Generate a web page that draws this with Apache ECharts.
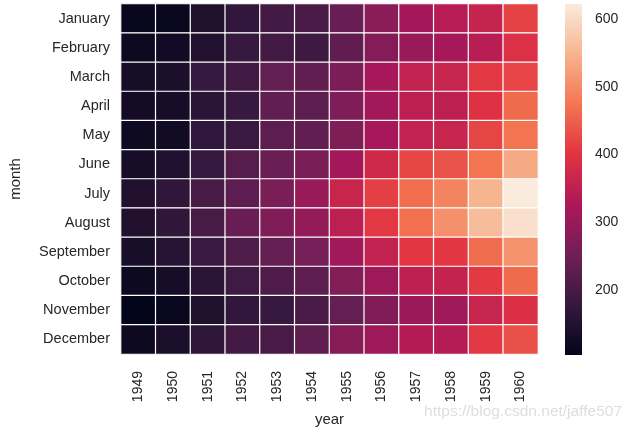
<!DOCTYPE html>
<html><head><meta charset="utf-8">
<script src="https://cdn.jsdelivr.net/npm/echarts@6/dist/echarts.min.js"></script>
<style>html,body{margin:0;padding:0;background:#fff}#c{width:633px;height:432px}</style>
</head><body><div id="c"></div>
<script>
var years = ['1949','1950','1951','1952','1953','1954','1955','1956','1957','1958','1959','1960'];
var months = ['January','February','March','April','May','June','July','August','September','October','November','December'];
// passengers per year, Jan..Dec
var p1949 = [112,118,132,129,121,135,148,148,136,119,104,118];
var p1950 = [115,126,141,135,125,149,170,170,158,133,114,140];
var p1951 = [145,150,178,163,172,178,199,199,184,162,146,166];
var p1952 = [171,180,193,181,183,218,230,242,209,191,172,194];
var p1953 = [196,196,236,235,229,243,264,272,237,211,180,201];
var p1954 = [204,188,235,227,234,264,302,293,259,229,203,229];
var p1955 = [242,233,267,269,270,315,364,347,312,274,237,278];
var p1956 = [284,277,317,313,318,374,413,405,355,306,271,306];
var p1957 = [315,301,356,348,355,422,465,467,404,347,305,336];
var p1958 = [340,318,362,348,363,435,491,505,404,359,310,337];
var p1959 = [360,342,406,396,420,472,548,559,463,407,362,405];
var p1960 = [417,391,419,461,472,535,622,606,508,461,390,432];
var colorbarTicks = [200,300,400,500,600];
var vMin = 104, vMax = 622;

var all = [p1949,p1950,p1951,p1952,p1953,p1954,p1955,p1956,p1957,p1958,p1959,p1960];
var data = [];
all.forEach(function(col, xi){ col.forEach(function(v, yi){ data.push([xi, yi, v]); }); });

var rocket = ['#03051a','#35193e','#701f57','#ad1759','#e13342','#f37651','#f6b48f','#faebdd'];
var stops = rocket.map(function(c,i){ return {offset: i/(rocket.length-1), color: c}; });

var txt = '#262626';
var font = 'Arial, "Liberation Sans", sans-serif';
var chart = echarts.init(document.getElementById('c'));
chart.setOption({
  animation: false,
  textStyle: {fontFamily: font},
  grid: [
    {left: 117, top: 4, width: 421, height: 350},
    {left: 565, top: 4, width: 17, height: 351}
  ],
  xAxis: [
    {type: 'category', data: years, gridIndex: 0, axisLine: {show: false}, axisTick: {show: false},
     axisLabel: {rotate: 90, fontSize: 14, color: txt, margin: 17, fontFamily: font},
     name: 'year', nameLocation: 'middle', nameGap: 58, nameTextStyle: {fontSize: 15, color: txt, fontFamily: font}},
    {type: 'category', data: ['c'], gridIndex: 1, show: false}
  ],
  yAxis: [
    {type: 'category', data: months, inverse: true, gridIndex: 0, axisLine: {show: false}, axisTick: {show: false},
     axisLabel: {fontSize: 14.5, color: txt, margin: 11, fontFamily: font},
     name: 'month', nameLocation: 'middle', nameGap: 98, nameRotate: 90, nameTextStyle: {fontSize: 15, color: txt, fontFamily: font}},
    {type: 'value', gridIndex: 1, min: vMin, max: vMax, position: 'right',
     axisLine: {show: false}, axisTick: {show: false}, splitLine: {show: false},
     axisLabel: {customValues: colorbarTicks, fontSize: 14, color: txt, margin: 13, fontFamily: font}}
  ],
  visualMap: {show: false, min: vMin, max: vMax, dimension: 2, seriesIndex: 0,
    inRange: {color: rocket}},
  series: [
    {type: 'heatmap', data: data, xAxisIndex: 0, yAxisIndex: 0,
     itemStyle: {borderColor: '#ffffff', borderWidth: 1.2}},
    {type: 'custom', xAxisIndex: 1, yAxisIndex: 1, data: [[0, vMin, vMax]], silent: true,
     renderItem: function(params, api){
       var a = api.coord([0, api.value(1)]);
       var b = api.coord([0, api.value(2)]);
       var cs = params.coordSys;
       return {type: 'rect', shape: {x: cs.x, y: b[1], width: cs.width, height: a[1]-b[1]},
         style: {fill: new echarts.graphic.LinearGradient(0,1,0,0, stops)}};
     }}
  ],
  graphic: [
    {type: 'text', right: 11, top: 404, style: {text: 'https://blog.csdn.net/jaffe507', fontSize: 15.5, fill: '#dedede', fontFamily: font}}
  ]
});
</script></body></html>
